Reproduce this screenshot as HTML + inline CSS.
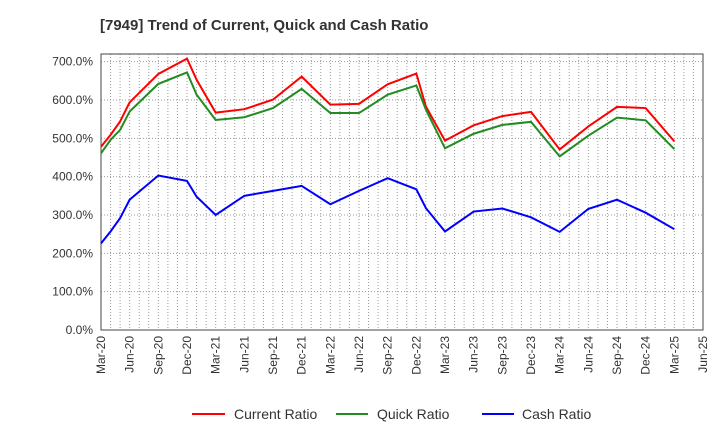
<!DOCTYPE html>
<html><head><meta charset="utf-8"><style>
body{margin:0;background:#fff;font-family:"Liberation Sans",Arial,sans-serif}
</style></head><body>
<svg id="c" width="720" height="440" xmlns="http://www.w3.org/2000/svg">
<text x="100" y="30" font-size="15" font-weight="bold" fill="#333">[7949]  Trend of Current, Quick and Cash Ratio</text>
<g id="grid"></g><g id="axes"></g><g id="series"></g>
<g>
<line x1="192" y1="414" x2="225" y2="414" stroke="#f00" stroke-width="2"/>
<text x="234" y="419" font-size="14" fill="#333">Current Ratio</text>
<line x1="336" y1="414" x2="368" y2="414" stroke="#228b22" stroke-width="2"/>
<text x="377" y="419" font-size="14" fill="#333">Quick Ratio</text>
<line x1="482" y1="414" x2="514" y2="414" stroke="#00f" stroke-width="2"/>
<text x="522" y="419" font-size="14" fill="#333">Cash Ratio</text>
</g>
</svg>
<script>
const months=[0,1,2,3,6,9,10,12,15,18,21,24,27,30,33,34,36,39,42,45,48,51,54,57,60];
const currentRatio=[478,509,544,594,668,708,653,567,576,601,661,588,590,641,669,583,494,534,558,569,471,531,582,579,492];
const quickRatio=[461,496,522,570,642,672,614,548,555,579,629,566,566,614,638,575,474,512,535,543,453,507,554,547,472];
const cashRatio=[226,257,292,340,403,389,348,300,350,363,376,328,363,396,367,318,257,309,317,294,256,316,340,306,263];
const yTicks=[0,100,200,300,400,500,600,700];
const xLabels=["Mar-20","Jun-20","Sep-20","Dec-20","Mar-21","Jun-21","Sep-21","Dec-21","Mar-22","Jun-22","Sep-22","Dec-22","Mar-23","Jun-23","Sep-23","Dec-23","Mar-24","Jun-24","Sep-24","Dec-24","Mar-25","Jun-25"];
const L=101,R=703,T=54,B=330,NM=63,YMAX=720;
const x=m=>L+m*(R-L)/NM, y=v=>B-v*(B-T)/YMAX;
const NS="http://www.w3.org/2000/svg";
function mk(tag,attrs,parent){const e=document.createElementNS(NS,tag);for(const k in attrs)e.setAttribute(k,attrs[k]);parent.appendChild(e);return e;}
const grid=document.getElementById('grid'),axes=document.getElementById('axes'),ser=document.getElementById('series');
for(let m=1;m<NM;m++){const g=mk('line',{x1:x(m),x2:x(m),y1:T,y2:B,stroke:'#999','stroke-dasharray':'1,2','stroke-width':1},grid);

}
yTicks.forEach(v=>{
 if(v>0){const g=mk('line',{x1:L,x2:R,y1:y(v),y2:y(v),stroke:'#999','stroke-dasharray':'1,2'},grid);
 
 }
 const t=mk('text',{x:93,y:y(v)+4,'font-size':12,'text-anchor':'end',fill:'#333'},axes);t.textContent=v.toFixed(1)+'%';
 
 
});
xLabels.forEach((s,i)=>{const px=x(i*3);
 const t=mk('text',{x:0,y:0,'font-size':12,'text-anchor':'end',fill:'#333',transform:`translate(${px+4},336) rotate(-90)`},axes);t.textContent=s;
 
 
});
const box=mk('rect',{x:L,y:T,width:R-L,height:B-T,fill:'none',stroke:'#444','stroke-width':1},axes);


[[currentRatio,'#f00','current-ratio-line'],[quickRatio,'#228b22','quick-ratio-line'],[cashRatio,'#00f','cash-ratio-line']].forEach(([d,c,n])=>{
 const p=mk('polyline',{points:d.map((v,i)=>x(months[i])+','+y(v)).join(' '),fill:'none',stroke:c,'stroke-width':2},ser);
 
 
});
</script>
</body></html>
